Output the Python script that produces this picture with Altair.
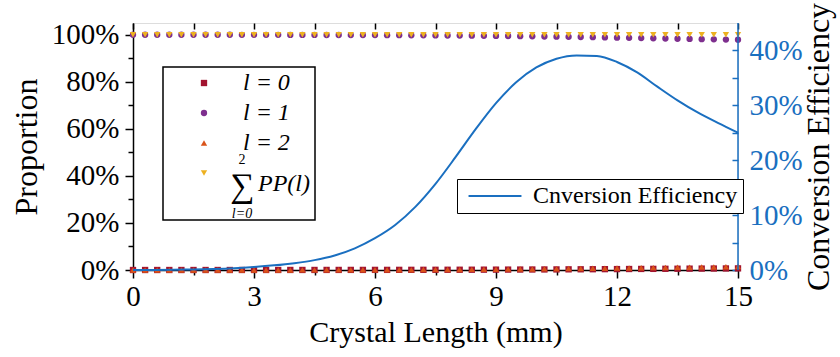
import altair as alt
import pandas as pd

# ---------------- data ----------------
length_mm = [0.0, 0.3, 0.6, 0.9, 1.2, 1.5, 1.8, 2.1, 2.4, 2.7, 3.0, 3.3, 3.6, 3.9, 4.2, 4.5, 4.8,
             5.1, 5.4, 5.7, 6.0, 6.3, 6.6, 6.9, 7.2, 7.5, 7.8, 8.1, 8.4, 8.7, 9.0, 9.3, 9.6, 9.9,
             10.2, 10.5, 10.8, 11.1, 11.4, 11.7, 12.0, 12.3, 12.6, 12.9, 13.2, 13.5, 13.8, 14.1,
             14.4, 14.7, 15.0]
pp_l0 = [0, 0, 0, 0, 0, 0, 0, 0, 0, 0.01, 0.01,
         0.01, 0.01, 0.02, 0.02, 0.02, 0.03, 0.03, 0.04, 0.04, 0.05,
         0.05, 0.06, 0.07, 0.08, 0.09, 0.10, 0.11, 0.12, 0.14, 0.15,
         0.17, 0.19, 0.21, 0.23, 0.25, 0.28, 0.30, 0.33, 0.36, 0.39,
         0.42, 0.45, 0.48, 0.51, 0.54, 0.57, 0.60, 0.63, 0.66, 0.69]
pp_l1 = [100, 100, 100, 100, 100, 99.99, 99.99, 99.99, 99.99, 99.97, 99.97,
         99.96, 99.96, 99.94, 99.93, 99.93, 99.91, 99.90, 99.88, 99.87, 99.85,
         99.83, 99.81, 99.78, 99.75, 99.72, 99.69, 99.65, 99.61, 99.56, 99.52,
         99.46, 99.40, 99.34, 99.27, 99.20, 99.12, 99.05, 98.96, 98.87, 98.78,
         98.69, 98.60, 98.51, 98.41, 98.32, 98.23, 98.14, 98.05, 97.96, 97.87]
pp_l2 = [0, 0, 0, 0, 0, 0.01, 0.01, 0.01, 0.01, 0.02, 0.02,
         0.03, 0.03, 0.04, 0.05, 0.05, 0.06, 0.07, 0.08, 0.09, 0.10,
         0.12, 0.13, 0.15, 0.17, 0.19, 0.21, 0.24, 0.27, 0.30, 0.33,
         0.37, 0.41, 0.45, 0.50, 0.55, 0.60, 0.65, 0.71, 0.77, 0.83,
         0.89, 0.95, 1.01, 1.08, 1.14, 1.20, 1.26, 1.32, 1.38, 1.44]
pp_sum = [100, 100, 100, 100, 100, 100, 100, 100, 100, 100, 100,
          100, 100, 100, 100, 100, 100, 100, 100, 100, 100,
          100, 100, 100, 100, 100, 100, 100, 100, 100, 100,
          100, 100, 100, 100, 100, 100, 100, 100, 100, 100,
          100, 100, 100, 100, 100, 100, 100, 100, 100, 100]

eff_length = [0.0, 0.5, 1.0, 1.5, 2.0, 2.5, 3.0, 3.5, 4.0, 4.5, 5.0, 5.5, 6.0, 6.5, 7.0, 7.5,
              8.0, 8.5, 9.0, 9.5, 10.0, 10.5, 11.0, 11.5, 12.0, 12.5, 13.0, 13.5, 14.0, 14.5, 15.0]
eff_pct = [0.0, 0.02, 0.05, 0.10, 0.18, 0.32, 0.55, 0.85, 1.25, 1.8, 2.65, 3.95, 5.8, 8.2, 11.5,
           15.7, 20.6, 25.7, 30.4, 34.2, 36.9, 38.5, 39.1, 39.0, 37.9, 36.0, 33.4, 30.9, 28.7,
           26.8, 25.0]

series_names = ["l = 0", "l = 1", "l = 2", "sum"]
series_colors = ["#A2142F", "#7E2F8E", "#D95319", "#EDB120"]
series_shapes = ["square", "circle", "triangle-up", "triangle-down"]
line_name = "Cnversion Efficiency"

x_ticks = [0, 1.5, 3, 4.5, 6, 7.5, 9, 10.5, 12, 13.5, 15]
left_ticks = [0, 10, 20, 30, 40, 50, 60, 70, 80, 90, 100]
right_ticks = [0, 5, 10, 15, 20, 25, 30, 35, 40]

BLUE = "#1A6FC0"
FONT = "'Liberation Serif', 'Times New Roman', Times, serif"

rows = []
for name, vals in zip(series_names, [pp_l0, pp_l1, pp_l2, pp_sum]):
    for xv, yv in zip(length_mm, vals):
        rows.append({"length": xv, "value": yv, "series": name})
df_pts = pd.DataFrame(rows)
df_eff = pd.DataFrame({"length": eff_length, "eff": eff_pct, "name": line_name})
one = pd.DataFrame({"k": [0]})

W, H = 605, 247

legend1 = dict(orient="none", legendX=59, legendY=48, labelFont=FONT, labelFontSize=24,
               labelFontStyle="italic", labelColor="black", symbolSize=40, symbolStrokeWidth=0,
               labelOffset=27, rowPadding=6, padding=0, labelLimit=300,
               labelExpr="datum.label == 'sum' ? '' : datum.label")

box = alt.Chart(one).mark_rect(fill="white", stroke="black", strokeWidth=1.5).encode(
    x=alt.value(30), x2=alt.value(182), y=alt.value(44), y2=alt.value(197))

points = alt.Chart(df_pts).mark_point(filled=True, size=40, opacity=1).encode(
    x=alt.X("length:Q", scale=alt.Scale(domain=[0, 15], nice=False, zero=False),
            axis=alt.Axis(orient="bottom", values=x_ticks,
                          labelExpr="datum.value % 3 == 0 ? datum.label : ''",
                          tickSize={"condition": {"test": "datum.value % 3 == 0", "value": 8}, "value": 5},
                          tickColor="black", tickWidth=1.5, domainColor="black", domainWidth=1.5,
                          labelFont=FONT, labelFontSize=29, labelColor="black", labelPadding=4,
                          labelFlush=False, labelOverlap=False, grid=False,
                          title="Crystal Length (mm)", titleFont=FONT, titleFontSize=30,
                          titleFontWeight="normal", titleColor="black", titlePadding=6)),
    y=alt.Y("value:Q", scale=alt.Scale(domain=[0, 105], nice=False),
            axis=alt.Axis(orient="left", values=left_ticks,
                          labelExpr="datum.value % 20 == 0 ? datum.value + '%' : ''",
                          tickSize={"condition": {"test": "datum.value % 20 == 0", "value": 8}, "value": 5},
                          tickColor="black", tickWidth=1.5, domainColor="black", domainWidth=1.5,
                          labelFont=FONT, labelFontSize=29, labelColor="black", labelPadding=6,
                          labelFlush=False, labelOverlap=False, grid=False,
                          title="Proportion", titleFont=FONT, titleFontSize=32,
                          titleFontWeight="normal", titleColor="black", titlePadding=8)),
    color=alt.Color("series:N", title=None,
                    scale=alt.Scale(domain=series_names, range=series_colors),
                    legend=alt.Legend(**legend1)),
    shape=alt.Shape("series:N", title=None,
                    scale=alt.Scale(domain=series_names, range=series_shapes),
                    legend=alt.Legend(**legend1)),
)

line = alt.Chart(df_eff).mark_line(strokeWidth=2, interpolate="monotone").encode(
    x=alt.X("length:Q",
            axis=alt.Axis(orient="top", values=x_ticks, offset=-6, tickSize=6, labels=False,
                          domain=False, tickColor="black", tickWidth=1.5, grid=False, title=None)),
    y=alt.Y("eff:Q", scale=alt.Scale(domain=[0, 45], nice=False),
            axis=alt.Axis(orient="right", values=right_ticks, offset=-6, tickSize=6, domain=False,
                          labelExpr="datum.value % 10 == 0 ? datum.value + '%' : ''",
                          tickColor=BLUE, tickWidth=1.5, labelFont=FONT, labelFontSize=29,
                          labelColor=BLUE, labelPadding=11, labelFlush=False, labelOverlap=False,
                          grid=False, title="Conversion Efficiency", titleAngle=270,
                          titleFont=FONT, titleFontSize=32, titleFontWeight="normal",
                          titleColor="black", titlePadding=33)),
    stroke=alt.Stroke("name:N", title=None,
                      scale=alt.Scale(domain=[line_name], range=[BLUE]),
                      legend=alt.Legend(orient="none", legendX=324, legendY=156,
                                        symbolType="M-5,0L5,0", symbolSize=112,
                                        symbolStrokeWidth=2, symbolOffset=21, labelOffset=26,
                                        labelFont=FONT, labelFontSize=24, labelColor="black",
                                        labelLimit=400,
                                        strokeColor="black", fillColor="white", padding=5)),
)

edge = alt.Chart(pd.DataFrame({"edge": [15]})).mark_rule(color=BLUE, strokeWidth=1.5).encode(
    x=alt.X("edge:Q", axis=None), y=alt.value(0), y2=alt.value(H))

sigma = alt.Chart(one).mark_text(text="∑", font=FONT, fontSize=34, align="center",
                                 baseline="middle", color="black").encode(
    x=alt.value(109), y=alt.value(164))
pp = alt.Chart(one).mark_text(text="PP(l)", font=FONT, fontSize=24, fontStyle="italic",
                              align="left", baseline="middle", color="black").encode(
    x=alt.value(125), y=alt.value(161))
sup = alt.Chart(one).mark_text(text="2", font=FONT, fontSize=14, align="center",
                               baseline="middle", color="black").encode(
    x=alt.value(109), y=alt.value(137))
sub = alt.Chart(one).mark_text(text="l=0", font=FONT, fontSize=14, fontStyle="italic",
                               align="center", baseline="middle", color="black").encode(
    x=alt.value(109), y=alt.value(191))

chart = alt.layer(box, points, line, edge, sigma, pp, sup, sub).resolve_scale(
    y="independent"
).resolve_axis(
    x="independent", y="independent"
).properties(
    width=W, height=H,
    autosize=alt.AutoSizeParams(type="none"),
    padding={"left": 133, "top": 23, "right": 102, "bottom": 87},
).configure_view(
    stroke="black", strokeWidth=1.5
).configure_legend(
    strokeWidth=1.5
).configure(background="white")

chart.save("out.html", embed_options={"renderer": "svg", "actions": False})
